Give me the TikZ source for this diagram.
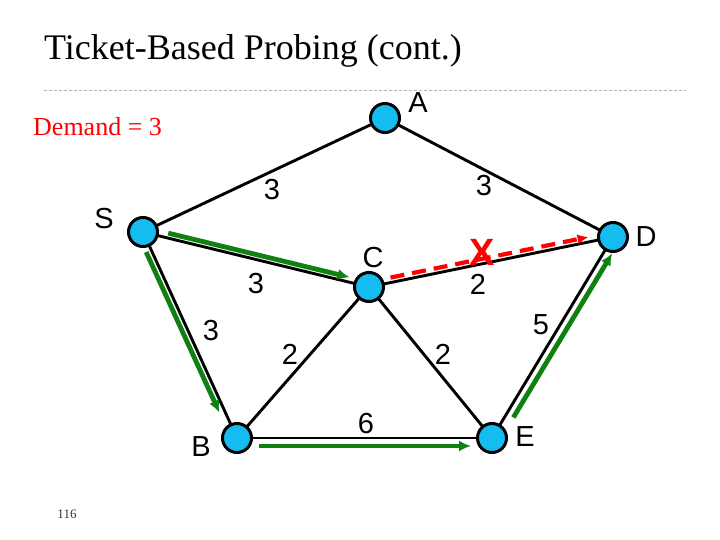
\documentclass[tikz,border=0pt]{standalone}
\usepackage{fontspec}
\setmainfont{Liberation Serif}
\newfontfamily\arial{Liberation Sans}
\usetikzlibrary{arrows.meta}

\begin{document}
\begin{tikzpicture}[x=1pt,y=-1pt,>=Latex,
 station/.style={circle,draw=black,line width=3pt,fill=nodeblue,minimum size=29pt,inner sep=0pt},
 tag/.style={font=\arial\fontsize{29}{32}\selectfont,inner sep=0pt},
 wt/.style={font=\arial\fontsize{29}{32}\selectfont,inner sep=0pt},
 link/.style={line width=2.9pt,black},
 probe/.style={line width=4.8pt,probegreen,arrows={-Latex[length=12pt,width=11pt]}},
 fail/.style={line width=4.2pt,red,dash pattern=on 14pt off 8pt,arrows={-Latex[length=11pt,width=10pt]}}]
\definecolor{nodeblue}{RGB}{20,188,240}
\definecolor{probegreen}{RGB}{16,128,16}
\useasboundingbox (0,0) rectangle (720,540);
\node[anchor=base west,font=\fontsize{36}{40}\selectfont,inner sep=0pt] (title) at (44,60) {Ticket-Based Probing (cont.)};
\draw[gray!60,line width=0.8pt,dash pattern=on 3pt off 2pt] (44,90) -- (686,90);
\node[anchor=base west,red,font=\fontsize{26}{30}\selectfont,inner sep=0pt] (demand) at (33,136) {Demand = 3};
\node[font=\fontsize{13}{15}\selectfont,gray!40!black] (page) at (67,514) {116};
% network
\coordinate (pA) at (385,118);
\coordinate (pS) at (143,232);
\coordinate (pD) at (613,237);
\coordinate (pC) at (369,287);
\coordinate (pB) at (237,438);
\coordinate (pE) at (492,438);
\foreach \u/\v in {A/S,A/D,S/C,C/D,S/B,D/E,C/B,C/E,B/E}
 \draw[link] (p\u) -- (p\v);
\foreach \n in {A,S,D,C,B,E}
 \node[station] (\n) at (p\n) {};
\node[tag] (lA) at (418,103) {A};
\node[tag] (lS) at (104,219) {S};
\node[tag] (lD) at (646,237) {D};
\node[tag] (lC) at (373,258) {C};
\node[tag] (lB) at (201,447) {B};
\node[tag] (lE) at (525,437) {E};
\node[wt] (wAS) at (272,190) {3};
\node[wt] (wAD) at (484,186) {3};
\node[wt] (wSC) at (256,284) {3};
\node[wt] (wSB) at (211,331) {3};
\node[wt] (wCB) at (290,354) {2};
\node[wt] (wCE) at (443,354) {2};
\node[wt] (wCD) at (478,284) {2};
\node[wt] (wBE) at (366,424) {6};
\node[wt] (wDE) at (541,325) {5};
% probes
\draw[probe,shorten <=10pt,shorten >=4pt,transform canvas={yshift=5pt}] (S) -- (C);
\draw[probe,shorten <=6pt,shorten >=12pt,transform canvas={xshift=-6pt}] (S) -- (B);
\draw[probe,shorten <=6pt,shorten >=5pt,transform canvas={yshift=-8pt}] (B) -- (E);
\draw[probe,shorten <=8pt,shorten >=3pt,transform canvas={xshift=9pt}] (E) -- (D);
\draw[fail,shorten <=6pt,shorten >=9pt,transform canvas={yshift=5pt}] (C) -- (D);
\node[red,font=\arial\bfseries\fontsize{38}{40}\selectfont,inner sep=0pt] (cut) at (482,252) {X};
\end{tikzpicture}
\end{document}
